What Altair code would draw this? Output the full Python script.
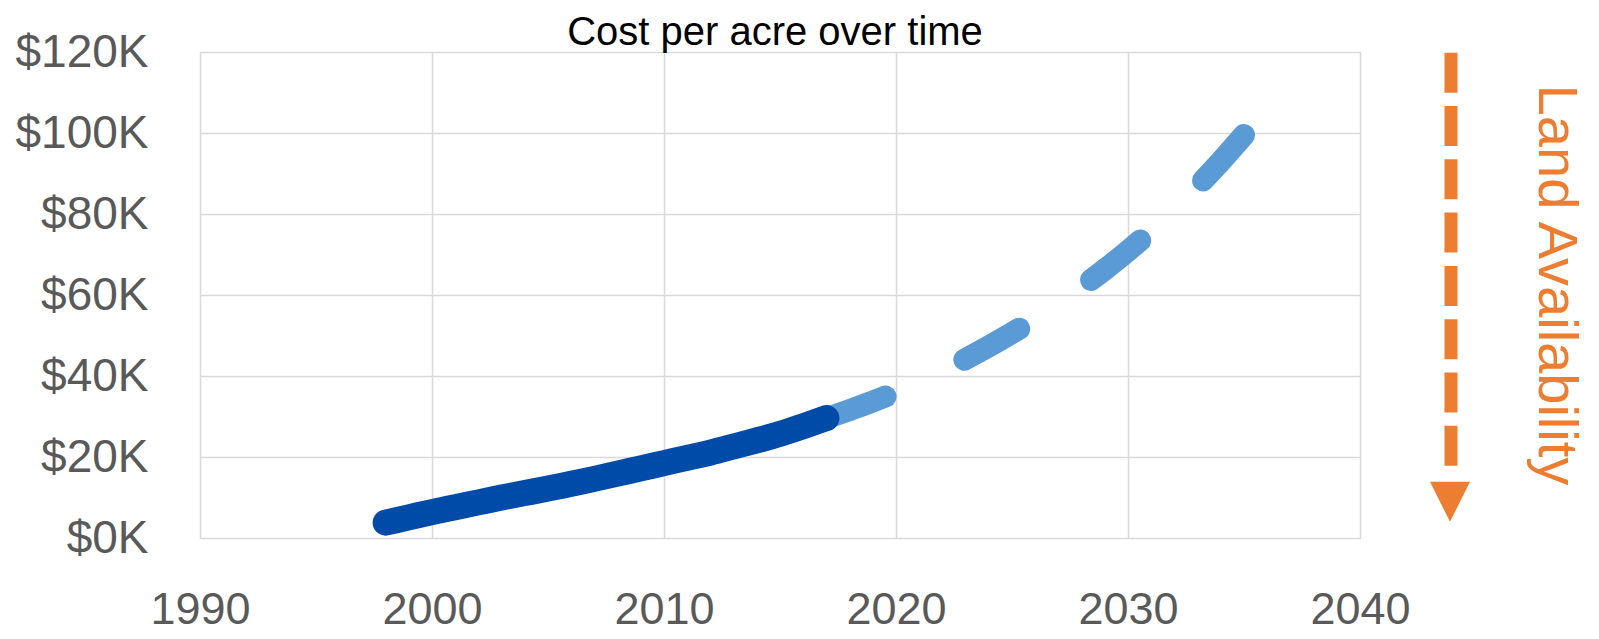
import altair as alt
import pandas as pd

# Historical cost per acre (thousands of $)
hist_years = [1998, 1999, 2000, 2001, 2002, 2003, 2004, 2005, 2006, 2007,
              2008, 2009, 2010, 2011, 2012, 2013, 2014, 2015, 2016, 2017]
hist_cost = [3.8, 5.1, 6.4, 7.6, 8.8, 10.0, 11.1, 12.2, 13.4, 14.6,
             15.9, 17.2, 18.5, 19.8, 21.1, 22.6, 24.1, 25.7, 27.6, 29.6]

# Projected cost per acre (thousands of $)
proj_years = [2017, 2018, 2019, 2020, 2021, 2022, 2023, 2024, 2025, 2026,
              2027, 2028, 2029, 2030, 2031, 2032, 2033, 2034, 2035]
proj_cost = [29.6, 31.6, 33.7, 36.0, 38.6, 41.3, 44.2, 47.3, 50.6, 54.1,
             57.9, 62.0, 66.3, 70.9, 75.9, 81.2, 86.9, 93.0, 99.5]

x_ticks = [1990, 2000, 2010, 2020, 2030, 2040]
y_ticks = [0, 20, 40, 60, 80, 100, 120]

title_text = "Cost per acre over time"
side_label = "Land Availability"

hist = pd.DataFrame({"year": hist_years, "cost": hist_cost})
proj = pd.DataFrame({"year": proj_years, "cost": proj_cost})

LABEL_FONT = "Liberation Sans, Arial, sans-serif"

x_enc = alt.X("year:Q", scale=alt.Scale(domain=[1990, 2040], nice=False, zero=False),
              axis=alt.Axis(values=x_ticks, format="d", title=None, labelFont=LABEL_FONT,
                            labelFontSize=45, labelColor="#595959", labelPadding=49,
                            ticks=False, tickSize=0, domain=False, grid=True,
                            gridColor="#D9D9D9", gridWidth=1.5, labelFlush=False))
y_enc = alt.Y("cost:Q", scale=alt.Scale(domain=[0, 120], nice=False),
              axis=alt.Axis(values=y_ticks, labelExpr="'$' + datum.value + 'K'", title=None,
                            labelFont=LABEL_FONT, labelFontSize=46, labelColor="#595959",
                            labelPadding=52, ticks=False, tickSize=0, domain=False,
                            grid=True, gridColor="#D9D9D9", gridWidth=1.5))

proj_line = alt.Chart(proj).mark_line(
    color="#5B9BD5", strokeWidth=22, strokeCap="round", strokeJoin="round",
    strokeDash=[63, 87], interpolate="monotone"
).encode(x=x_enc, y=y_enc)

hist_line = alt.Chart(hist).mark_line(
    color="#004AA8", strokeWidth=26, strokeCap="round", strokeJoin="round",
    interpolate="monotone"
).encode(x="year:Q", y="cost:Q")

one = alt.Data(values=[{"k": 1}])

arrow_shaft = alt.Chart(one).mark_rule(
    color="#ED7D31", strokeWidth=13, strokeDash=[40, 13.3], strokeCap="butt"
).encode(x=alt.value(1251), y=alt.value(0.7), y2=alt.value(414))

arrow_head = alt.Chart(one).mark_point(
    shape="M-1,-1L1,-1L0,1Z", size=1600, filled=True, color="#ED7D31", opacity=1
).encode(x=alt.value(1250), y=alt.value(449.7))

side_text = alt.Chart(one).mark_text(
    text=side_label, angle=90, align="center", baseline="alphabetic",
    font="Liberation Sans, sans-serif", fontSize=56, color="#ED7D31"
).encode(x=alt.value(1339), y=alt.value(233))

title_mark = alt.Chart(one).mark_text(
    text=title_text, align="center", baseline="alphabetic",
    font="Liberation Sans, sans-serif", fontSize=40, color="#000000"
).encode(x=alt.value(575), y=alt.value(-7.5))

chart = alt.layer(proj_line, hist_line, arrow_shaft, arrow_head, side_text, title_mark).properties(
    width=1160, height=486,
    autosize=alt.AutoSizeParams(type="none"),
    padding={"left": 192, "top": 44, "right": 230, "bottom": 95},
).configure_view(stroke=None).configure(background="white")

chart.save("out.html", embed_options={"renderer": "svg", "actions": False})
